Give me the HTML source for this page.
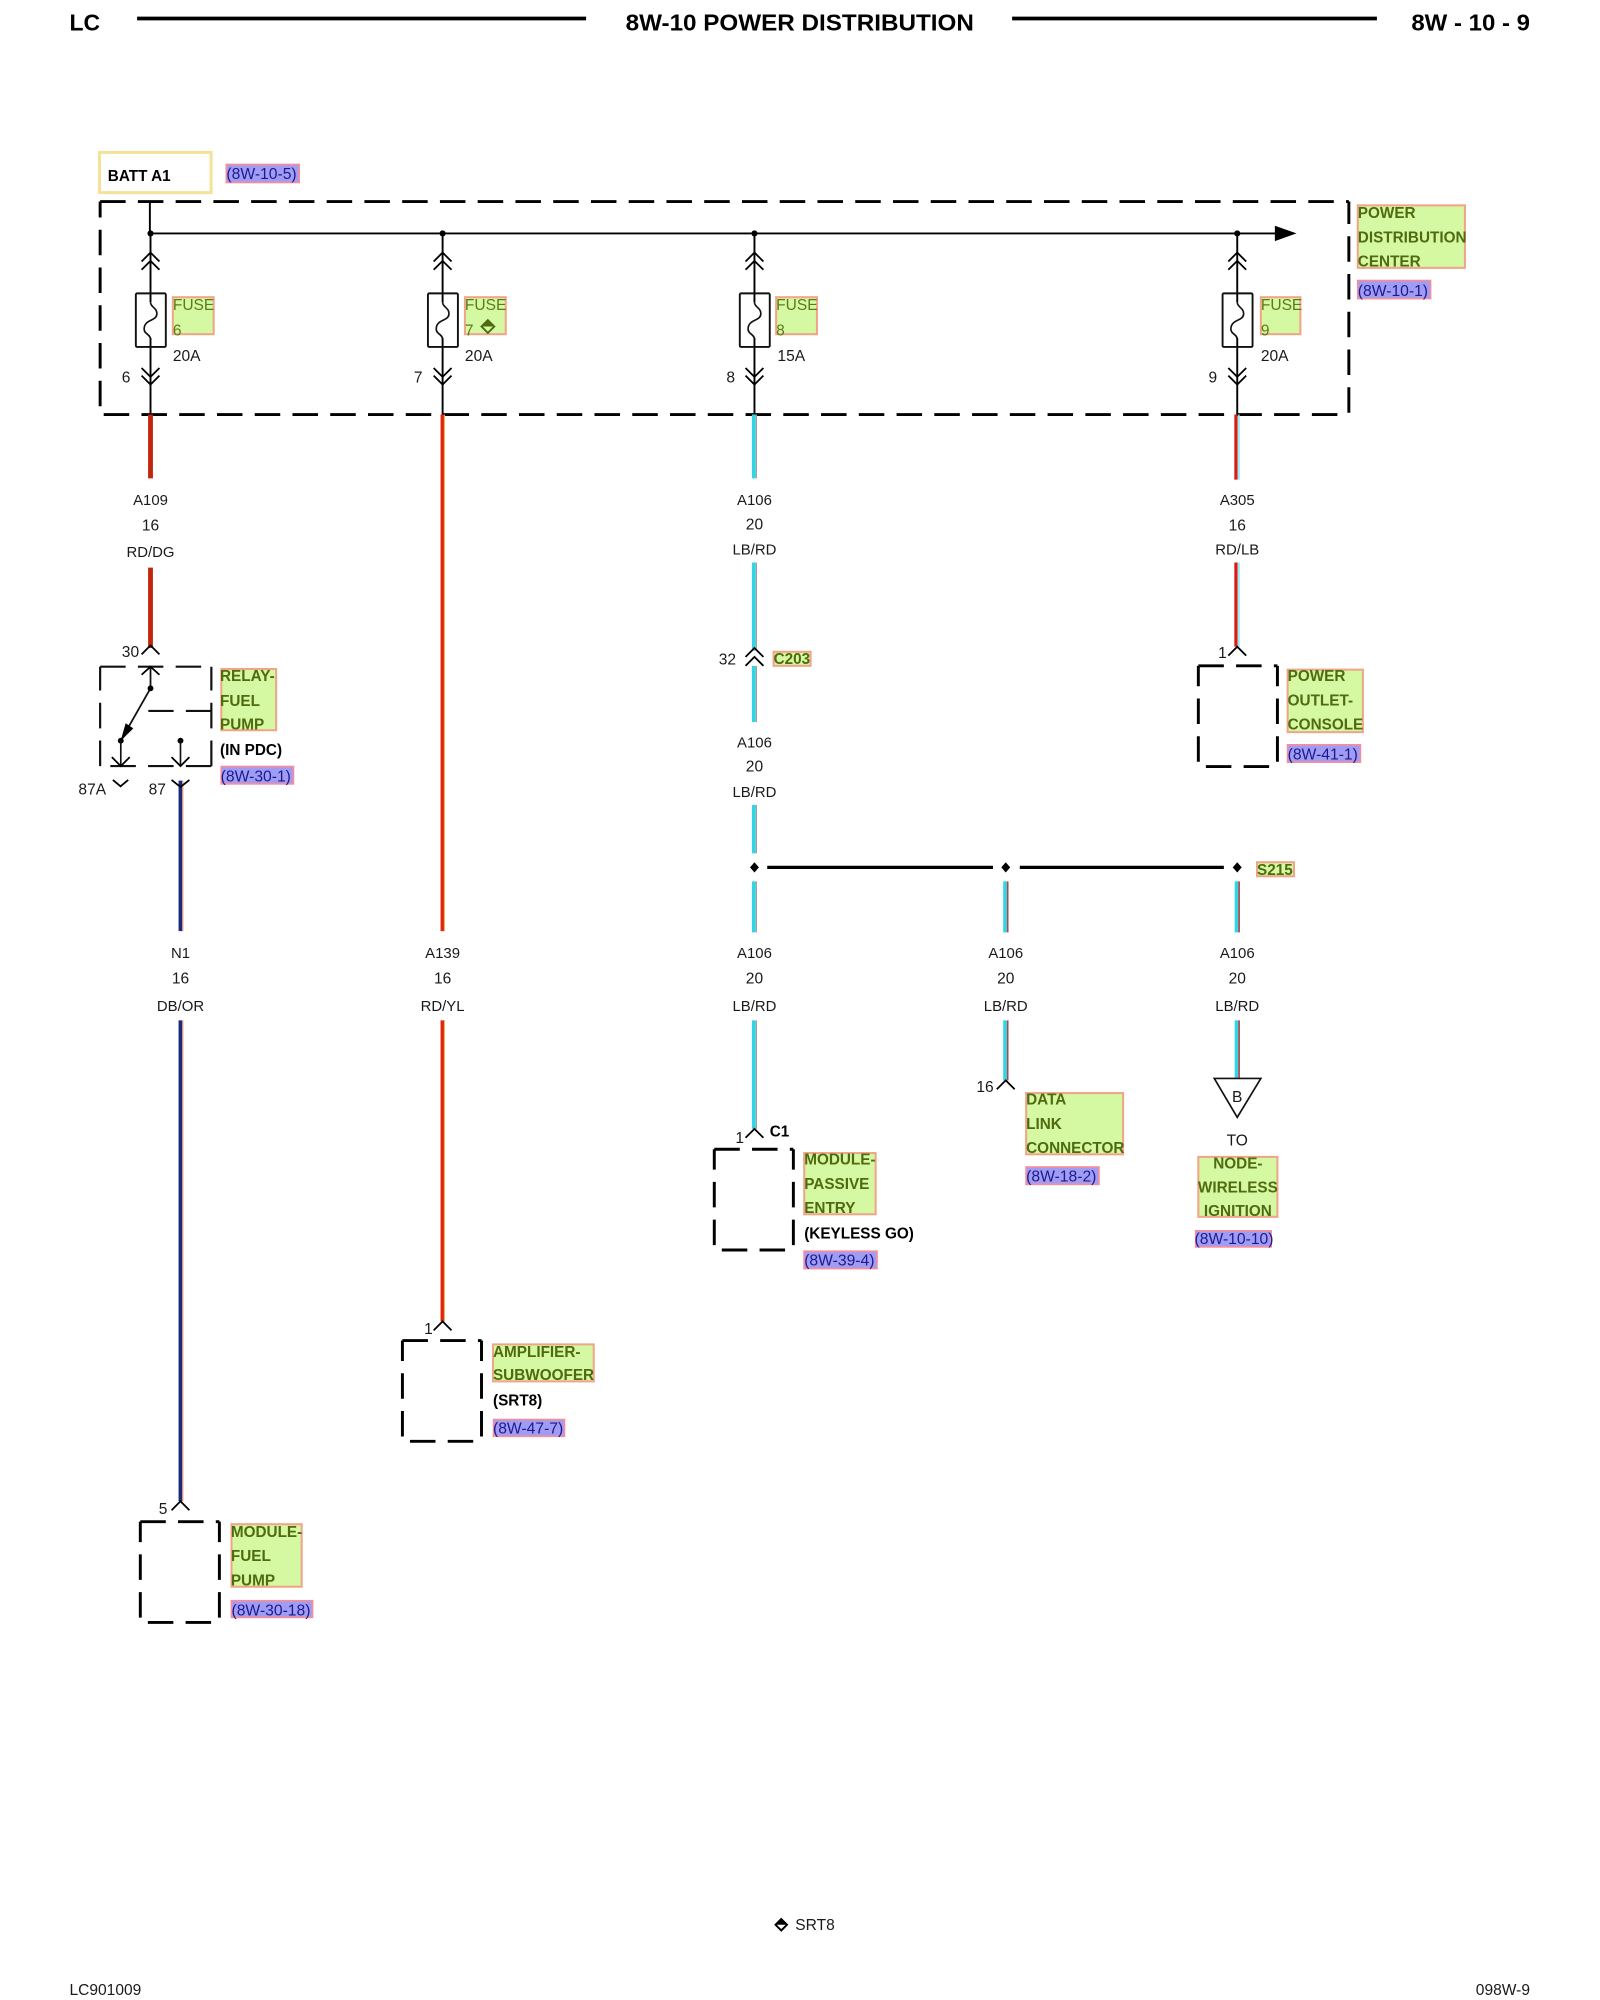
<!DOCTYPE html>
<html><head><meta charset="utf-8"><title>8W-10 Power Distribution</title>
<style>
html,body{margin:0;padding:0;background:#fff}
svg{display:block}
text{font-family:"Liberation Sans",sans-serif;font-size:12.2px;fill:#1a1a1a}
.m{text-anchor:middle}
.s{font-size:11.7px}
.b{font-weight:bold;fill:#000;font-size:12px}
.g{font-weight:bold;fill:#4f6a0f;font-size:12px}
.f{fill:#5d7a1a}
.r{fill:#1a1a90;font-size:12.3px}
.gb{fill:#d5f8a2;stroke:#f0a488;stroke-width:1.6}
.rb{fill:#a09cf4;stroke:#f08fa0;stroke-width:1.4}
.c{fill:none;stroke:#000;stroke-width:1.4}
.d{fill:none;stroke:#000;stroke-width:2.3;stroke-dasharray:20 9.6}
.t{fill:none;stroke:#111;stroke-width:1.7;stroke-dasharray:20 9.6}
</style></head><body>
<svg xmlns="http://www.w3.org/2000/svg" width="1600" height="2000" viewBox="-0.5 0 1254.4 1568">
<defs>
<g id="mod"><path class="d" d="M0 0H62M0 75.2V0M62 75.2V0M55.5 79H0"/></g>
<path id="ch" class="c" d="M-7 7L0 0L7 7"/>
<path id="vh" class="c" d="M-7 -7L0 0L7 -7"/>
<g id="fuse">
<path d="M0 183V237M0 265V325" stroke="#000" stroke-width="1.5" fill="none"/>
<use href="#ch" y="198"/><use href="#ch" y="204.500"/>
<rect x="-11.500" y="230" width="23.500" height="42" rx="1" fill="none" stroke="#111" stroke-width="1.5"/>
<path d="M0 237C0 241 5 241 5 246C5 252 -5 250 -5 258C-5 262 0 262 0 266" fill="none" stroke="#111" stroke-width="1.3"/>
<use href="#vh" y="295.500"/><use href="#vh" y="301.500"/>
<circle cx="0" cy="183" r="2.400" fill="#000"/>
</g>
</defs>
<rect x="-1" width="1256" height="1568" fill="#fff"/>

<!-- header -->
<text x="54" y="24" class="b" style="font-size:18px">LC</text>
<path d="M107 14.500H459M793 14.500H1079" stroke="#000" stroke-width="3"/>
<text x="490" y="24" class="b" style="font-size:18px" textLength="273" lengthAdjust="spacingAndGlyphs">8W-10 POWER DISTRIBUTION</text>
<text x="1106" y="24" class="b" style="font-size:18px" textLength="93" lengthAdjust="spacingAndGlyphs">8W - 10 - 9</text>

<!-- batt -->
<rect x="77.500" y="119.500" width="87.500" height="31.500" fill="#fff" stroke="#f5e29a" stroke-width="2.400"/>
<text x="84" y="142" class="b">BATT A1</text>
<rect class="rb" x="177" y="129" width="57" height="14"/>
<text x="177" y="140.500" class="r">(8W-10-5)</text>

<!-- PDC dashed box -->
<path class="d" d="M78 158H1057M78 318.500V158M1057 323.600V158M1048 325H78"/>
<path d="M117 158V183M117 183H1002" stroke="#000" stroke-width="1.500" fill="none"/>
<polygon points="999,177 1016,183 999,189" fill="#000"/>
<use href="#fuse" x="117.500"/><use href="#fuse" x="346.500"/><use href="#fuse" x="591"/><use href="#fuse" x="969.500"/>

<rect class="gb" x="135" y="233" width="32" height="29"/><text x="135" y="243" class="f">FUSE</text><text x="135" y="263" class="f">6</text>
<rect class="gb" x="364" y="233" width="32" height="29"/><text x="364" y="243" class="f">FUSE</text><text x="364" y="263" class="f">7</text>
<path d="M382 251L387 256L382 261L377 256Z" fill="none" stroke="#4f6a0f" stroke-width="1.500"/><path d="M377 256L382 251L387 256Z" fill="#4f6a0f"/>
<rect class="gb" x="608" y="233" width="32" height="29"/><text x="608" y="243" class="f">FUSE</text><text x="608" y="263" class="f">8</text>
<rect class="gb" x="988" y="233" width="31" height="29"/><text x="988" y="243" class="f">FUSE</text><text x="988" y="263" class="f">9</text>
<text x="135" y="283">20A</text><text x="364" y="283">20A</text><text x="609" y="283">15A</text><text x="988" y="283">20A</text>
<text x="95" y="300">6</text><text x="324" y="300">7</text><text x="569" y="300">8</text><text x="947" y="300">9</text>

<rect class="gb" x="1064" y="161" width="84" height="49"/>
<text x="1064" y="171" class="g">POWER</text><text x="1064" y="190" class="g">DISTRIBUTION</text><text x="1064" y="209" class="g">CENTER</text>
<rect class="rb" x="1064" y="220" width="57" height="14"/><text x="1064" y="232" class="r">(8W-10-1)</text>

<!-- wires -->
<path d="M117.500 325V375M117.500 445V508" stroke="#c2260c" stroke-width="3.800" fill="none"/>
<path d="M346.500 325V730M346.500 800V1036" stroke="#e02408" stroke-width="3.200" fill="none"/>
<path d="M347.900 325V730M347.900 800V1036" stroke="#f0b060" stroke-width="0.800" fill="none"/>
<path d="M141 612V730M141 800V1177" stroke="#1c2a78" stroke-width="3" fill="none"/>
<path d="M142.900 612V730M142.900 800V1177" stroke="#eeb89a" stroke-width="1" fill="none"/>
<path d="M590.500 325V375M590.500 441V510M590.500 522V566M590.500 631V669M590.500 691V731M590.500 800V885" stroke="#2fd6e6" stroke-width="3" fill="none"/>
<path d="M592.500 325V375M592.500 441V510M592.500 522V566M592.500 631V669M592.500 691V731M592.500 800V885" stroke="#b09a9a" stroke-width="1" fill="none"/>
<path d="M968.500 325V376M968.500 441V507" stroke="#d0201a" stroke-width="2.600" fill="none"/>
<path d="M970.800 325V376M970.800 441V507" stroke="#7fe8f0" stroke-width="1.200" fill="none"/>
<path d="M787.500 691V731M787.500 800V847M969 691V731M969 800V845" stroke="#2fd6e6" stroke-width="3" fill="none"/>
<path d="M789.600 691V731M789.600 800V847M971 691V731M971 800V845" stroke="#c03030" stroke-width="1.100" fill="none"/>

<!-- wire labels -->
<text x="117.500" y="396" class="m s">A109</text><text x="117.500" y="416" class="m">16</text><text x="117.500" y="436.700" class="m s">RD/DG</text>
<text x="591" y="396" class="m s">A106</text><text x="591" y="415" class="m">20</text><text x="591" y="434.700" class="m s">LB/RD</text>
<text x="969.500" y="396" class="m s">A305</text><text x="969.500" y="416" class="m">16</text><text x="969.500" y="434.700" class="m s">RD/LB</text>
<text x="591" y="586" class="m s">A106</text><text x="591" y="605" class="m">20</text><text x="591" y="624.700" class="m s">LB/RD</text>
<text x="141" y="751" class="m s">N1</text><text x="141" y="771" class="m">16</text><text x="141" y="792.700" class="m s">DB/OR</text>
<text x="346.500" y="751" class="m s">A139</text><text x="346.500" y="771" class="m">16</text><text x="346.500" y="792.700" class="m s">RD/YL</text>
<text x="591" y="751" class="m s">A106</text><text x="591" y="771" class="m">20</text><text x="591" y="792.700" class="m s">LB/RD</text>
<text x="788" y="751" class="m s">A106</text><text x="788" y="771" class="m">20</text><text x="788" y="792.700" class="m s">LB/RD</text>
<text x="969.500" y="751" class="m s">A106</text><text x="969.500" y="771" class="m">20</text><text x="969.500" y="792.700" class="m s">LB/RD</text>

<!-- relay -->
<use href="#ch" x="117.500" y="506"/>
<text x="95" y="515">30</text>
<path class="t" d="M78 522.700H165.200M78 600.600V522.700M165.200 600.600V522.700M165.200 600.600H78M165.200 557.400H115.800"/>
<path d="M117.500 522.700V539.600L94.200 580.700" fill="none" stroke="#111" stroke-width="1.400"/>
<path class="c" d="M110.500 529L117.500 522.700L124.500 529"/>
<polygon points="94,581 98,567 104,571" fill="#000"/>
<circle cx="117.500" cy="539.600" r="2.300" fill="#000"/><circle cx="94.200" cy="580.700" r="2.300" fill="#000"/><circle cx="141" cy="580.700" r="2.300" fill="#000"/>
<path d="M94.200 580.700V600.600M141 580.700V600.600" stroke="#111" stroke-width="1.300"/>
<use href="#vh" x="94.200" y="600.600"/><use href="#vh" x="141" y="600.600"/>
<path class="c" d="M88 611.500L94 616.500L100 611.500"/>
<path class="c" d="M134 611.500L141 617L148 611.500"/>
<text x="61" y="623">87A</text><text x="116" y="623">87</text>
<rect class="gb" x="173" y="524.500" width="43" height="48"/>
<text x="172" y="534" class="g">RELAY-</text><text x="172" y="553.500" class="g">FUEL</text><text x="172" y="572" class="g">PUMP</text>
<text x="172" y="592" class="b">(IN PDC)</text>
<rect class="rb" x="173" y="601" width="56.500" height="13.500"/><text x="172.500" y="612.800" class="r">(8W-30-1)</text>

<!-- C203 -->
<use href="#ch" x="591" y="508"/><use href="#ch" x="591" y="515"/>
<text x="563" y="521">32</text>
<rect class="gb" x="606" y="511" width="29" height="11"/><text x="606" y="520.500" class="g">C203</text>

<!-- S215 -->
<path d="M601 680H778M799 680H959" stroke="#000" stroke-width="2.500"/>
<path d="M591 676L594.500 680L591 684L587.500 680Z" fill="#000"/>
<path d="M788 676L791.500 680L788 684L784.500 680Z" fill="#000"/>
<path d="M969.500 676L973 680L969.500 684L966 680Z" fill="#000"/>
<rect class="gb" x="985" y="676" width="29" height="11"/><text x="985" y="686" class="g">S215</text>

<!-- power outlet -->
<use href="#ch" x="969.500" y="507"/><text x="954.500" y="516">1</text>
<use href="#mod" x="939" y="522"/>
<rect class="gb" x="1009" y="525" width="59" height="49"/>
<text x="1009" y="534" class="g">POWER</text><text x="1009" y="553" class="g">OUTLET-</text><text x="1009" y="572" class="g">CONSOLE</text>
<rect class="rb" x="1009" y="584" width="57" height="13.500"/><text x="1009" y="595.500" class="r">(8W-41-1)</text>

<!-- passive entry -->
<use href="#ch" x="591" y="885"/><text x="576" y="896">1</text><text x="603" y="891" class="b">C1</text>
<use href="#mod" x="559.500" y="901"/>
<rect class="gb" x="630" y="904" width="56" height="48"/>
<text x="630" y="913" class="g">MODULE-</text><text x="630" y="932" class="g">PASSIVE</text><text x="630" y="951" class="g">ENTRY</text>
<text x="630" y="971" class="b">(KEYLESS GO)</text>
<rect class="rb" x="630" y="981" width="57" height="13.500"/><text x="630" y="992" class="r">(8W-39-4)</text>

<!-- DLC -->
<use href="#ch" x="788" y="847"/><text x="765" y="856">16</text>
<rect class="gb" x="804" y="857" width="76" height="48"/>
<text x="804" y="866" class="g">DATA</text><text x="804" y="885" class="g">LINK</text><text x="804" y="904" class="g">CONNECTOR</text>
<rect class="rb" x="804" y="915" width="57" height="13.500"/><text x="804" y="926.500" class="r">(8W-18-2)</text>

<!-- B -->
<polygon points="951.500,845.500 988,845.500 969.500,876" fill="#fff" stroke="#111" stroke-width="1.300"/>
<text x="969.500" y="864" class="m">B</text>
<text x="969.500" y="898" class="m">TO</text>
<rect class="gb" x="939" y="907" width="62" height="47"/>
<text x="970" y="916" class="g m">NODE-</text><text x="970" y="935" class="g m">WIRELESS</text><text x="970" y="953.500" class="g m">IGNITION</text>
<rect class="rb" x="937" y="965" width="59" height="12.500"/><text x="936" y="975.500" class="r">(8W-10-10)</text>

<!-- amp -->
<use href="#ch" x="346.500" y="1036"/><text x="332" y="1046">1</text>
<use href="#mod" x="315" y="1051"/>
<rect class="gb" x="386" y="1054" width="79" height="29"/>
<text x="386" y="1064" class="g">AMPLIFIER-</text><text x="386" y="1082" class="g">SUBWOOFER</text>
<text x="386" y="1102" class="b">(SRT8)</text>
<rect class="rb" x="386.500" y="1113" width="55.500" height="13"/><text x="386" y="1124" class="r">(8W-47-7)</text>

<!-- fuel pump module -->
<use href="#ch" x="141" y="1177"/><text x="124" y="1187">5</text>
<use href="#mod" x="109.500" y="1193"/>
<rect class="gb" x="181" y="1195" width="55" height="49"/>
<text x="180.500" y="1205" class="g">MODULE-</text><text x="180.500" y="1224" class="g">FUEL</text><text x="180.500" y="1243" class="g">PUMP</text>
<rect class="rb" x="181" y="1255" width="63.500" height="13"/><text x="181" y="1266.500" class="r">(8W-30-18)</text>

<!-- footer -->
<path d="M612 1504.500L616.500 1509L612 1513.500L607.500 1509Z" fill="none" stroke="#000" stroke-width="1.500"/>
<path d="M607.500 1509L612 1504.500L616.500 1509Z" fill="#000"/>
<text x="623" y="1513">SRT8</text>
<text x="54" y="1564">LC901009</text>
<text x="1199" y="1564" style="text-anchor:end">098W-9</text>
</svg>
</body></html>
